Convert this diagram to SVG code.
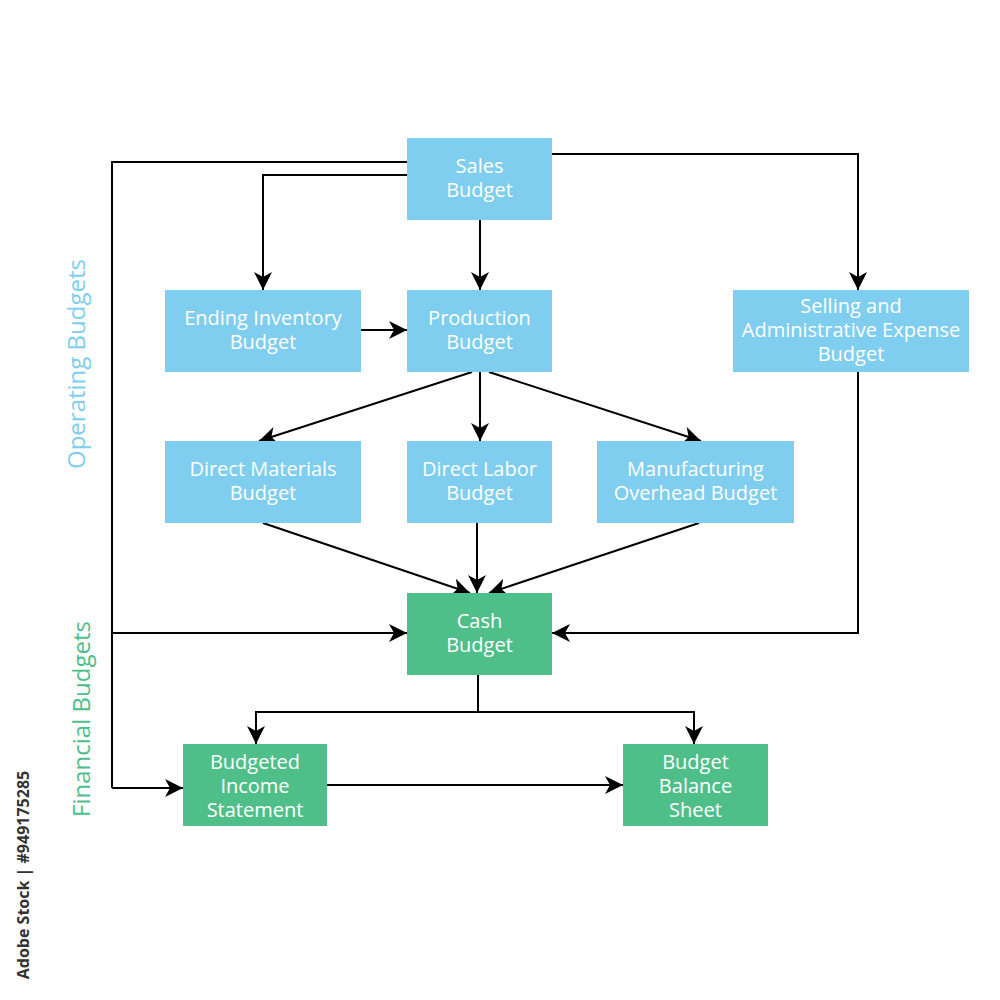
<svg xmlns="http://www.w3.org/2000/svg" width="1000" height="1000" viewBox="0 0 1000 1000">
<defs>
<marker id="ah" markerUnits="userSpaceOnUse" markerWidth="20" markerHeight="20" refX="18" refY="9" orient="auto">
<path d="M0,0 L18,9 L0,18 L5,9 Z" fill="#000"/>
</marker>
<style>
.blue{fill:#7fcef0}
.green{fill:#4fbf8a}
.t{font-family:"Open Sans","Noto Sans",sans-serif;font-size:20px;fill:#fff;text-anchor:middle}
.c{fill:none;stroke:#000;stroke-width:2}
.a{marker-end:url(#ah)}
</style>
</defs>
<rect width="1000" height="1000" fill="#fff"/>
<g id="connectors">
<path class="c" d="M407,162 H112 V788"/>
<path class="c a" d="M112,788 H183"/>
<path class="c a" d="M112,633 H407"/>
<path class="c a" d="M407,175 H263 V290"/>
<path class="c a" d="M480,220 V290"/>
<path class="c a" d="M552,154 H858 V290"/>
<path class="c a" d="M361,330 H407"/>
<path class="c a" d="M472,372 L259,441"/>
<path class="c a" d="M480,372 V441"/>
<path class="c a" d="M489,372 L701,441"/>
<path class="c a" d="M263,523 L470,593"/>
<path class="c a" d="M477,523 V593"/>
<path class="c a" d="M699,523 L489,593"/>
<path class="c a" d="M858,372 V633 H552"/>
<path class="c" d="M478,675 V712"/>
<path class="c a" d="M478,712 H256 V744"/>
<path class="c a" d="M478,712 H694 V744"/>
<path class="c a" d="M322,785 H623"/>
</g>
<g id="sales"><rect class="blue" x="407" y="138" width="145" height="82"/><text class="t" x="479.5" y="173">Sales</text><text class="t" x="479.5" y="197">Budget</text></g>
<g id="ending"><rect class="blue" x="165" y="290" width="196" height="82"/><text class="t" x="263" y="325">Ending Inventory</text><text class="t" x="263" y="349">Budget</text></g>
<g id="production"><rect class="blue" x="407" y="290" width="145" height="82"/><text class="t" x="479.5" y="325">Production</text><text class="t" x="479.5" y="349">Budget</text></g>
<g id="selling"><rect class="blue" x="733" y="290" width="236" height="82"/><text class="t" x="851" y="313">Selling and</text><text class="t" x="851" y="337">Administrative Expense</text><text class="t" x="851" y="361">Budget</text></g>
<g id="materials"><rect class="blue" x="165" y="441" width="196" height="82"/><text class="t" x="263" y="476">Direct Materials</text><text class="t" x="263" y="500">Budget</text></g>
<g id="labor"><rect class="blue" x="407" y="441" width="145" height="82"/><text class="t" x="479.5" y="476">Direct Labor</text><text class="t" x="479.5" y="500">Budget</text></g>
<g id="overhead"><rect class="blue" x="597" y="441" width="197" height="82"/><text class="t" x="695.5" y="476">Manufacturing</text><text class="t" x="695.5" y="500">Overhead Budget</text></g>
<g id="cash"><rect class="green" x="407" y="593" width="145" height="82"/><text class="t" x="479.5" y="628">Cash</text><text class="t" x="479.5" y="652">Budget</text></g>
<g id="income"><rect class="green" x="183" y="744" width="144" height="82"/><text class="t" x="255" y="769">Budgeted</text><text class="t" x="255" y="793">Income</text><text class="t" x="255" y="817">Statement</text></g>
<g id="balance"><rect class="green" x="623" y="744" width="145" height="82"/><text class="t" x="695.5" y="769">Budget</text><text class="t" x="695.5" y="793">Balance</text><text class="t" x="695.5" y="817">Sheet</text></g>
<g id="labels">
<text transform="translate(84.5,364) rotate(-90)" style="font-family:'Open Sans','Noto Sans',sans-serif;font-size:24px;fill:#7fcef0;text-anchor:middle">Operating Budgets</text>
<text transform="translate(89.5,719) rotate(-90)" style="font-family:'Open Sans','Noto Sans',sans-serif;font-size:24px;fill:#4fbf8a;text-anchor:middle">Financial Budgets</text>
<text transform="translate(29,875) rotate(-90)" style="font-family:'Open Sans','Noto Sans',sans-serif;font-size:16px;font-weight:bold;fill:#333;text-anchor:middle">Adobe Stock | #949175285</text>
</g>
</svg>
